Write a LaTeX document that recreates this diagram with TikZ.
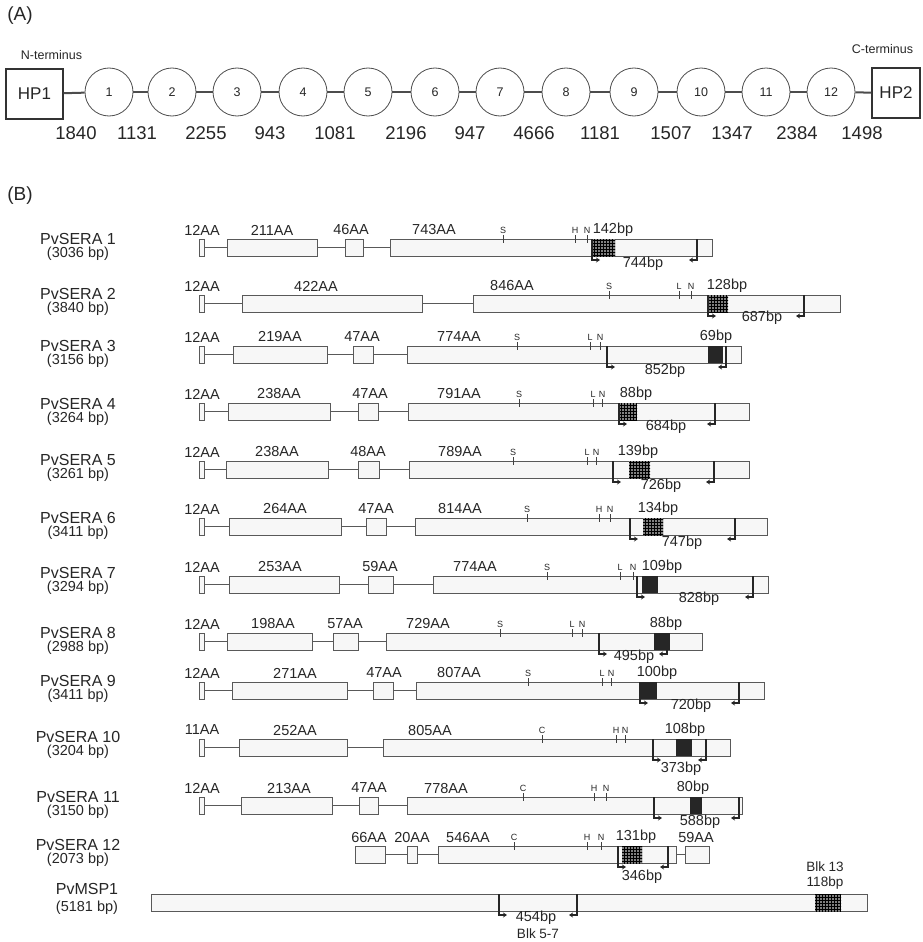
\documentclass[tikz,border=0pt]{standalone}
\usepackage{fontspec}
\setmainfont{Liberation Sans}
\usetikzlibrary{arrows.meta,patterns}
\begin{document}
\begin{tikzpicture}[x=1pt, y=-1pt,
  every node/.style={text=black!85},
  panel/.style={font=\fontsize{19}{21}\selectfont, inner sep=0pt},
  term/.style={font=\fontsize{12.5}{14}\selectfont, inner sep=0pt},
  hpbox/.style={draw=black!80, line width=1.2pt, minimum height=50pt, inner sep=0pt, font=\fontsize{17}{19}\selectfont},
  dom/.style={circle, draw=black!70, line width=0.8pt, minimum size=48pt, inner sep=0pt, font=\fontsize{12.5}{14}\selectfont},
  link/.style={draw=black!70, line width=2pt},
  seglen/.style={font=\fontsize{18.5}{20}\selectfont, inner sep=0pt},
  gname/.style={font=\fontsize{16}{18}\selectfont, inner sep=0pt},
  gsize/.style={font=\fontsize{14.5}{16}\selectfont, inner sep=0pt},
  aa/.style={font=\fontsize{14.5}{16}\selectfont, inner sep=0pt},
  blklbl/.style={font=\fontsize{13.5}{15}\selectfont, inner sep=0pt},
  sitelbl/.style={font=\fontsize{9}{10}\selectfont, inner sep=0pt},
  exon/.style={draw=black!65, line width=0.8pt, fill=black!3},
  intron/.style={draw=black!65, line width=0.8pt},
  site/.style={draw=black!75, line width=0.7pt},
  darkblk/.style={fill=black!85},
  gridblk/.style={fill=black!50, postaction={pattern=grid, pattern color=black}},
  primer/.style={draw=black!85, line width=1.4pt, -{Stealth[length=4pt, width=5pt]}}]
  \useasboundingbox (0,0) rectangle (923,942);

  \node[panel] (pa) at (20,16) {(A)};
  \node[term] (nterm) at (51.5,55) {N-terminus};
  \node[term] (cterm) at (882.5,49) {C-terminus};
  \node[hpbox, minimum width=57pt] (hp1) at (34.5,94) {HP1};
  \node[hpbox, minimum width=48pt] (hp2) at (896,93) {HP2};
  \foreach \x [count=\i] in {109,172,237,303,368,435,500,566,634,701,766,831}
    \node[dom] (d\i) at (\x,92) {\i};
  \foreach \a/\b in {hp1/d1, d1/d2, d2/d3, d3/d4, d4/d5, d5/d6, d6/d7, d7/d8, d8/d9, d9/d10, d10/d11, d11/d12, d12/hp2}
    \draw[link] (\a) -- (\b);
  \foreach \x/\t [count=\k] in {76/1840, 137/1131, 206/2255, 270/943, 335/1081, 406/2196, 470/947, 534/4666, 600/1181, 671/1507, 732/1347, 797/2384, 862/1498}
    \node[seglen] (len\k) at (\x,133) {\t};

  \node[panel] (pb) at (20,196) {(B)};

  \begin{scope}[shift={(0,239)}]
    \node[gname] (n1) at (78,0) {PvSERA 1};
    \node[gsize] (s1) at (78,15) {(3036 bp)};
    \draw[intron] (199,8.5) -- (390,8.5);
    \foreach \a/\b in {199/204, 227/317, 345/363, 390/712} \draw[exon] (\a,0) rectangle (\b,17);
    \foreach \x/\t [count=\k] in {202/12AA, 272/211AA, 351/46AA, 434/743AA} \node[aa] (aa1-\k) at (\x,-9) {\t};
    \foreach \x/\t [count=\k] in {503/S, 575/H, 587/N} {\draw[site] (\x,-4) -- (\x,4); \node[sitelbl] (st1-\k) at (\x,-9) {\t};}
    \fill[gridblk] (592,0) rectangle (615,17);
    \draw[primer] (592,0) |- ++(8,21);
    \draw[primer] (697,0) |- ++(-8,21);
    \node[aa] (up1) at (613,-9) {142bp};
    \node[aa] (lo1) at (643,25) {744bp};
  \end{scope}

  \begin{scope}[shift={(0,295)}]
    \node[gname] (n2) at (78,-1) {PvSERA 2};
    \node[gsize] (s2) at (78,14) {(3840 bp)};
    \draw[intron] (199,8.5) -- (473,8.5);
    \foreach \a/\b in {199/204, 242/422, 473/840} \draw[exon] (\a,0) rectangle (\b,17);
    \foreach \x/\t [count=\k] in {202/12AA, 316/422AA, 512/846AA} \node[aa] (aa2-\k) at (\x,-9) {\t};
    \foreach \x/\t [count=\k] in {609/S, 679/L, 691/N} {\draw[site] (\x,-4) -- (\x,4); \node[sitelbl] (st2-\k) at (\x,-9) {\t};}
    \fill[gridblk] (708,0) rectangle (728,17);
    \draw[primer] (708,0) |- ++(8,21);
    \draw[primer] (804,0) |- ++(-8,21);
    \node[aa] (up2) at (727,-9) {128bp};
    \node[aa] (lo2) at (762,23) {687bp};
  \end{scope}

  \begin{scope}[shift={(0,346)}]
    \node[gname] (n3) at (78,-0.5) {PvSERA 3};
    \node[gsize] (s3) at (78,14.5) {(3156 bp)};
    \draw[intron] (199,8.5) -- (407,8.5);
    \foreach \a/\b in {199/204, 233/327, 353/373, 407/741} \draw[exon] (\a,0) rectangle (\b,17);
    \foreach \x/\t [count=\k] in {202/12AA, 280/219AA, 362/47AA, 459/774AA} \node[aa] (aa3-\k) at (\x,-9) {\t};
    \foreach \x/\t [count=\k] in {517/S, 590/L, 600/N} {\draw[site] (\x,-4) -- (\x,4); \node[sitelbl] (st3-\k) at (\x,-9) {\t};}
    \fill[darkblk] (708,0) rectangle (723,17);
    \draw[primer] (607,0) |- ++(8,21);
    \draw[primer] (726,0) |- ++(-8,21);
    \node[aa] (up3) at (716,-9) {69bp};
    \node[aa] (lo3) at (665,25) {852bp};
  \end{scope}

  \begin{scope}[shift={(0,403)}]
    \node[gname] (n4) at (78,0.5) {PvSERA 4};
    \node[gsize] (s4) at (78,15.5) {(3264 bp)};
    \draw[intron] (199,8.5) -- (408,8.5);
    \foreach \a/\b in {199/204, 228/330, 358/378, 408/749} \draw[exon] (\a,0) rectangle (\b,17);
    \foreach \x/\t [count=\k] in {202/12AA, 279/238AA, 370/47AA, 459/791AA} \node[aa] (aa4-\k) at (\x,-9) {\t};
    \foreach \x/\t [count=\k] in {519/S, 593/L, 602/N} {\draw[site] (\x,-4) -- (\x,4); \node[sitelbl] (st4-\k) at (\x,-9) {\t};}
    \fill[gridblk] (618,0) rectangle (637,17);
    \draw[primer] (619,0) |- ++(8,21);
    \draw[primer] (715,0) |- ++(-8,21);
    \node[aa] (up4) at (636,-9) {88bp};
    \node[aa] (lo4) at (666,24) {684bp};
  \end{scope}

  \begin{scope}[shift={(0,461)}]
    \node[gname] (n5) at (78,-1) {PvSERA 5};
    \node[gsize] (s5) at (78,14) {(3261 bp)};
    \draw[intron] (199,8.5) -- (409,8.5);
    \foreach \a/\b in {199/204, 226/328, 358/379, 409/749} \draw[exon] (\a,0) rectangle (\b,17);
    \foreach \x/\t [count=\k] in {202/12AA, 277/238AA, 368/48AA, 460/789AA} \node[aa] (aa5-\k) at (\x,-9) {\t};
    \foreach \x/\t [count=\k] in {513/S, 587/L, 596/N} {\draw[site] (\x,-4) -- (\x,4); \node[sitelbl] (st5-\k) at (\x,-9) {\t};}
    \fill[gridblk] (629,0) rectangle (650,17);
    \draw[primer] (613,0) |- ++(8,21);
    \draw[primer] (714,0) |- ++(-8,21);
    \node[aa] (up5) at (638,-9) {139bp};
    \node[aa] (lo5) at (661,25) {726bp};
  \end{scope}

  \begin{scope}[shift={(0,518)}]
    \node[gname] (n6) at (78,-0.5) {PvSERA 6};
    \node[gsize] (s6) at (78,14.5) {(3411 bp)};
    \draw[intron] (199,8.5) -- (415,8.5);
    \foreach \a/\b in {199/204, 229/341, 366/386, 415/767} \draw[exon] (\a,0) rectangle (\b,17);
    \foreach \x/\t [count=\k] in {202/12AA, 285/264AA, 376/47AA, 460/814AA} \node[aa] (aa6-\k) at (\x,-9) {\t};
    \foreach \x/\t [count=\k] in {527/S, 599/H, 610/N} {\draw[site] (\x,-4) -- (\x,4); \node[sitelbl] (st6-\k) at (\x,-9) {\t};}
    \fill[gridblk] (643,0) rectangle (663,17);
    \draw[primer] (630,0) |- ++(8,21);
    \draw[primer] (735,0) |- ++(-8,21);
    \node[aa] (up6) at (658,-9) {134bp};
    \node[aa] (lo6) at (682,25) {747bp};
  \end{scope}

  \begin{scope}[shift={(0,576)}]
    \node[gname] (n7) at (78,-3) {PvSERA 7};
    \node[gsize] (s7) at (78,12) {(3294 bp)};
    \draw[intron] (199,8.5) -- (433,8.5);
    \foreach \a/\b in {199/204, 229/339, 368/393, 433/768} \draw[exon] (\a,0) rectangle (\b,17);
    \foreach \x/\t [count=\k] in {202/12AA, 280/253AA, 380/59AA, 475/774AA} \node[aa] (aa7-\k) at (\x,-9) {\t};
    \foreach \x/\t [count=\k] in {547/S, 620/L, 633/N} {\draw[site] (\x,-4) -- (\x,4); \node[sitelbl] (st7-\k) at (\x,-9) {\t};}
    \fill[darkblk] (642,0) rectangle (658,17);
    \draw[primer] (637,0) |- ++(8,21);
    \draw[primer] (753,0) |- ++(-8,21);
    \node[aa] (up7) at (662,-9) {109bp};
    \node[aa] (lo7) at (699,23) {828bp};
  \end{scope}

  \begin{scope}[shift={(0,633)}]
    \node[gname] (n8) at (78,0) {PvSERA 8};
    \node[gsize] (s8) at (78,15) {(2988 bp)};
    \draw[intron] (199,8.5) -- (386,8.5);
    \foreach \a/\b in {199/204, 227/312, 333/358, 386/702} \draw[exon] (\a,0) rectangle (\b,17);
    \foreach \x/\t [count=\k] in {202/12AA, 273/198AA, 345/57AA, 428/729AA} \node[aa] (aa8-\k) at (\x,-9) {\t};
    \foreach \x/\t [count=\k] in {500/S, 572/L, 582/N} {\draw[site] (\x,-4) -- (\x,4); \node[sitelbl] (st8-\k) at (\x,-9) {\t};}
    \fill[darkblk] (654,0) rectangle (670,17);
    \draw[primer] (599,0) |- ++(8,21);
    \draw[primer] (667,0) |- ++(-8,21);
    \node[aa] (up8) at (666,-9) {88bp};
    \node[aa] (lo8) at (634,24) {495bp};
  \end{scope}

  \begin{scope}[shift={(0,682)}]
    \node[gname] (n9) at (78,-1) {PvSERA 9};
    \node[gsize] (s9) at (78,14) {(3411 bp)};
    \draw[intron] (199,8.5) -- (416,8.5);
    \foreach \a/\b in {199/204, 232/347, 373/393, 416/764} \draw[exon] (\a,0) rectangle (\b,17);
    \foreach \x/\t [count=\k] in {202/12AA, 295/271AA, 384/47AA, 459/807AA} \node[aa] (aa9-\k) at (\x,-9) {\t};
    \foreach \x/\t [count=\k] in {528/S, 602/L, 611/N} {\draw[site] (\x,-4) -- (\x,4); \node[sitelbl] (st9-\k) at (\x,-9) {\t};}
    \fill[darkblk] (639,0) rectangle (657,17);
    \draw[primer] (640,0) |- ++(8,21);
    \draw[primer] (739,0) |- ++(-8,21);
    \node[aa] (up9) at (657,-9) {100bp};
    \node[aa] (lo9) at (691,24) {720bp};
  \end{scope}

  \begin{scope}[shift={(0,739)}]
    \node[gname] (n10) at (78,-2) {PvSERA 10};
    \node[gsize] (s10) at (78,13) {(3204 bp)};
    \draw[intron] (199,8.5) -- (383,8.5);
    \foreach \a/\b in {199/204, 239/347, 383/730} \draw[exon] (\a,0) rectangle (\b,17);
    \foreach \x/\t [count=\k] in {202/11AA, 295/252AA, 430/805AA} \node[aa] (aa10-\k) at (\x,-9) {\t};
    \foreach \x/\t [count=\k] in {542/C, 616/H, 625/N} {\draw[site] (\x,-4) -- (\x,4); \node[sitelbl] (st10-\k) at (\x,-9) {\t};}
    \fill[darkblk] (676,0) rectangle (692,17);
    \draw[primer] (653,0) |- ++(8,21);
    \draw[primer] (706,0) |- ++(-8,21);
    \node[aa] (up10) at (685,-9) {108bp};
    \node[aa] (lo10) at (681,30) {373bp};
  \end{scope}

  \begin{scope}[shift={(0,797)}]
    \node[gname] (n11) at (78,0) {PvSERA 11};
    \node[gsize] (s11) at (78,15) {(3150 bp)};
    \draw[intron] (199,8.5) -- (407,8.5);
    \foreach \a/\b in {199/204, 241/332, 359/378, 407/742} \draw[exon] (\a,0) rectangle (\b,17);
    \foreach \x/\t [count=\k] in {202/12AA, 289/213AA, 369/47AA, 446/778AA} \node[aa] (aa11-\k) at (\x,-9) {\t};
    \foreach \x/\t [count=\k] in {523/C, 594/H, 606/N} {\draw[site] (\x,-4) -- (\x,4); \node[sitelbl] (st11-\k) at (\x,-9) {\t};}
    \fill[darkblk] (690,0) rectangle (702,17);
    \draw[primer] (654,0) |- ++(8,21);
    \draw[primer] (739,0) |- ++(-8,21);
    \node[aa] (up11) at (693,-9) {80bp};
    \node[aa] (lo11) at (700,25) {588bp};
  \end{scope}

  \begin{scope}[shift={(0,846)}]
    \node[gname] (n12) at (78,-1) {PvSERA 12};
    \node[gsize] (s12) at (78,14) {(2073 bp)};
    \draw[intron] (355,8.5) -- (685,8.5);
    \foreach \a/\b in {355/385, 407/417, 438/676, 685/709} \draw[exon] (\a,0) rectangle (\b,17);
    \foreach \x/\t [count=\k] in {369/66AA, 412/20AA, 468/546AA, 696/59AA} \node[aa] (aa12-\k) at (\x,-9) {\t};
    \foreach \x/\t [count=\k] in {514/C, 587/H, 601/N} {\draw[site] (\x,-4) -- (\x,4); \node[sitelbl] (st12-\k) at (\x,-9) {\t};}
    \fill[gridblk] (622,0) rectangle (642,17);
    \draw[primer] (618,0) |- ++(8,21);
    \draw[primer] (668,0) |- ++(-8,21);
    \node[aa] (up12) at (636,-9) {131bp};
    \node[aa] (lo12) at (642,31) {346bp};
  \end{scope}

  \begin{scope}[shift={(0,894)}]
    \node[gname] (n13) at (87,-5) {PvMSP1};
    \node[gsize] (s13) at (87,14) {(5181 bp)};
    \draw[exon] (151,0) rectangle (867,17);
    \fill[gridblk] (815,0) rectangle (841,17);
    \draw[primer] (499,0) |- ++(8,21);
    \draw[primer] (577,0) |- ++(-8,21);
    \node[aa] (lo13) at (536,24) {454bp};
    \node[blklbl] (blk57) at (538,39.5) {Blk 5-7};
    \node[blklbl] (blk13) at (825,-27.5) {Blk 13};
    \node[blklbl] (up13) at (825,-11.5) {118bp};
  \end{scope}
\end{tikzpicture}
\end{document}
